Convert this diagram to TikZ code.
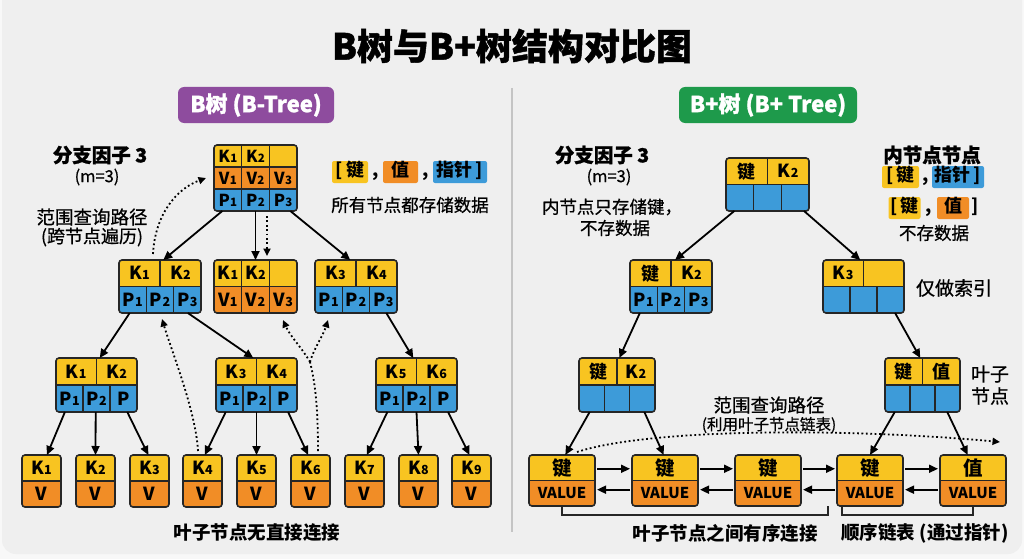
\documentclass[tikz,border=0pt]{standalone}
\usepackage{fontspec}
\setmainfont{Noto Sans CJK SC}
\newfontfamily\medfont{Noto Sans CJK SC}[FakeBold=0.6]
\newfontfamily\heavyfont{Noto Sans CJK SC}[BoldFeatures={FakeBold=1.2}]
\usetikzlibrary{arrows.meta,calc}
\definecolor{cY}{HTML}{F8C421}
\definecolor{cO}{HTML}{F18D26}
\definecolor{cB}{HTML}{3D9BD9}
\definecolor{cLine}{HTML}{262626}
\definecolor{cPurple}{HTML}{8E4C9E}
\definecolor{cGreen}{HTML}{1E9A4B}
\definecolor{cBg}{HTML}{F8F8F8}
\definecolor{cPanel}{HTML}{EFEFEF}
\definecolor{cDiv}{HTML}{C4C4C4}
\newcommand\cellfont{\bfseries\fontsize{18}{18}\selectfont}
\newcommand\subsz{12.5}
\newcommand\kx[2]{#1\kern0.3pt{\fontsize{\subsz}{\subsz}\selectfont#2}}
\newcommand\nn{\mbox{}}
\tikzset{
 tbox/.style={draw=cLine, line width=1.6pt, rounded corners=3pt, inner sep=0pt, outer sep=0pt},
 divline/.style={draw=cLine, line width=1.1pt},
 ctext/.style={font=\cellfont, text=black, inner sep=0pt},
 arr/.style={draw=black, line width=1.8pt, -{Triangle[length=9pt,width=8pt]}},
 dotline/.style={draw=black, line width=1.8pt, dash pattern=on 1.8pt off 2.6pt},
 dotarr/.style={dotline, -{Triangle[length=7.5pt,width=7pt]}},
 lab/.style={font=\medfont\fontsize{17.5}{20}\selectfont, text=black, inner sep=0pt},
 blab/.style={font=\heavyfont\bfseries\fontsize{19.5}{21}\selectfont, text=black, inner sep=0pt},
 capt/.style={font=\bfseries\fontsize{18.5}{20}\selectfont, text=black, inner sep=0pt},
 tagtxt/.style={inner sep=0pt, text height=13pt, text depth=4pt, font=\bfseries\fontsize{18}{18}\selectfont},
 tag/.style={tagtxt, rounded corners=2pt, minimum height=22pt},
 badge/.style={rounded corners=6pt, text=white, font=\heavyfont\bfseries\fontsize{22}{22}\selectfont, minimum height=36pt, inner sep=0pt},
 brk/.style={draw=cLine, line width=1.1pt},
}
% x, y, w, h, n, fill, labels
\newcommand\cellrow[7]{%
  \fill[#6] (#1,#2) rectangle ++(#3,#4);
  \foreach \lab [count=\ci] in {#7} {
    \node[ctext] at ({#1+(\ci-0.5)*#3/#5},{#2+#4/2}) {\lab};
    \ifnum\ci>1 \draw[divline] ({#1+(\ci-1)*#3/#5},#2) -- ++(0,#4); \fi
  }
}
% name, x, y, w, h, klabels(2), plabels(3)
\newcommand\kpnode[7]{%
  \begin{scope}
    \clip[rounded corners=3pt] (#2,#3) rectangle ++(#4,#5);
    \cellrow{#2}{#3}{#4}{#5/2}{2}{cY}{#6}
    \cellrow{#2}{#3+#5/2}{#4}{#5/2}{3}{cB}{#7}
    \draw[divline] (#2,#3+#5/2) -- ++(#4,0);
  \end{scope}
  \node[tbox, minimum width=#4pt, minimum height=#5pt] (#1) at ({#2+#4/2},{#3+#5/2}) {};
}
% name, x, y, w, h, n, top labels, bottom labels
\newcommand\kvnode[8]{%
  \begin{scope}
    \clip[rounded corners=3pt] (#2,#3) rectangle ++(#4,#5);
    \cellrow{#2}{#3}{#4}{#5/2}{#6}{cY}{#7}
    \cellrow{#2}{#3+#5/2}{#4}{#5/2}{#6}{cO}{#8}
    \draw[divline] (#2,#3+#5/2) -- ++(#4,0);
  \end{scope}
  \node[tbox, minimum width=#4pt, minimum height=#5pt] (#1) at ({#2+#4/2},{#3+#5/2}) {};
}
\newcommand\link[4]{\draw[arr] ($(#1.south west)!#2!(#1.south east)$) -- ($(#3.north west)!#4!(#3.north east)$);}
\newcommand\fwd[2]{\draw[arr, shorten <=2pt, shorten >=2pt] ($(#1.north east)!0.27!(#1.south east)$) -- ($(#2.north west)!0.27!(#2.south west)$);}
\newcommand\bwd[2]{\draw[arr, shorten <=2pt, shorten >=2pt] ($(#2.north west)!0.68!(#2.south west)$) -- ($(#1.north east)!0.68!(#1.south east)$);}
\begin{document}
\begin{tikzpicture}[x=1pt,y=-1pt]
\useasboundingbox (0,0) rectangle (1024,559);
\fill[cBg] (0,0) rectangle (1024,559);
\fill[cPanel, rounded corners=14pt] (2,-20) rectangle (1022,554);

% title
\node[font=\heavyfont\bfseries\fontsize{36}{40}\selectfont, inner sep=0pt] (title) at (512,46) {B树与B+树结构对比图};
\node[badge, fill=cPurple, minimum width=156pt] (lbadge) at (256,105) {B树 (B-Tree)};
\node[badge, fill=cGreen, minimum width=178pt] (rbadge) at (768,105) {B+树 (B+ Tree)};
\draw[cDiv, line width=1.3pt] (512,88) -- (512,532);

% ===== left B-tree =====
\renewcommand\cellfont{\bfseries\fontsize{16.5}{16.5}\selectfont}
\renewcommand\subsz{11.5}
\begin{scope}
  \clip[rounded corners=3pt] (214,145) rectangle ++(83,66);
  \cellrow{214}{145}{83}{22}{3}{cY}{\kx{K}{1},\kx{K}{2},\nn}
  \cellrow{214}{167}{83}{22}{3}{cO}{\kx{V}{1},\kx{V}{2},\kx{V}{3}}
  \cellrow{214}{189}{83}{22}{3}{cB}{\kx{P}{1},\kx{P}{2},\kx{P}{3}}
  \draw[divline] (214,167) -- ++(83,0);
  \draw[divline] (214,189) -- ++(83,0);
\end{scope}
\node[tbox, minimum width=83pt, minimum height=66pt] (lroot) at (255.5,178) {};

\renewcommand\cellfont{\bfseries\fontsize{18}{18}\selectfont}
\renewcommand\subsz{12.5}
\kpnode{la}{119}{260}{82}{53}{\kx{K}{1},\kx{K}{2}}{\kx{P}{1},\kx{P}{2},\kx{P}{3}}
\kvnode{lb}{214}{260}{83}{53}{3}{\kx{K}{1},\kx{K}{2},\nn}{\kx{V}{1},\kx{V}{2},\kx{V}{3}}
\kpnode{lc}{315}{260}{82}{53}{\kx{K}{3},\kx{K}{4}}{\kx{P}{1},\kx{P}{2},\kx{P}{3}}
\kpnode{ld}{56}{358}{81}{54}{\kx{K}{1},\kx{K}{2}}{\kx{P}{1},\kx{P}{2},P}
\kpnode{le}{216}{358}{81}{54}{\kx{K}{3},\kx{K}{4}}{\kx{P}{1},\kx{P}{2},P}
\kpnode{lf}{376}{358}{81}{54}{\kx{K}{5},\kx{K}{6}}{\kx{P}{1},\kx{P}{2},P}
\kvnode{k1}{22}{455}{39}{52}{1}{\kx{K}{1}}{V}
\kvnode{k2}{76}{455}{39}{52}{1}{\kx{K}{2}}{V}
\kvnode{k3}{130}{455}{39}{52}{1}{\kx{K}{3}}{V}
\kvnode{k4}{183}{455}{39}{52}{1}{\kx{K}{4}}{V}
\kvnode{k5}{237}{455}{39}{52}{1}{\kx{K}{5}}{V}
\kvnode{k6}{291}{455}{39}{52}{1}{\kx{K}{6}}{V}
\kvnode{k7}{345}{455}{39}{52}{1}{\kx{K}{7}}{V}
\kvnode{k8}{399}{455}{39}{52}{1}{\kx{K}{8}}{V}
\kvnode{k9}{452}{455}{39}{52}{1}{\kx{K}{9}}{V}

\link{lroot}{0.1}{la}{0.54}
\link{lroot}{0.5}{lb}{0.5}
\link{lroot}{0.92}{lc}{0.43}
\link{la}{0.13}{ld}{0.54}
\link{la}{0.84}{le}{0.46}
\link{lc}{0.87}{lf}{0.46}
\link{ld}{0.11}{k1}{0.64}
\link{ld}{0.49}{k2}{0.5}
\link{ld}{0.88}{k3}{0.47}
\link{le}{0.12}{k4}{0.56}
\link{le}{0.5}{k5}{0.5}
\link{le}{0.89}{k6}{0.44}
\link{lf}{0.14}{k7}{0.56}
\link{lf}{0.5}{k8}{0.5}
\link{lf}{0.89}{k9}{0.45}

% dotted range paths (left)
\coordinate (d0s) at (267,216);
\coordinate (d0e) at (267,256);
\draw[dotarr] (d0s) -- (d0e);
\coordinate (d1s) at (153,254);
\coordinate (d1e) at (206,178);
\draw[dotarr] (d1s) .. controls (155,215) and (176,189) .. (d1e);
\coordinate (d2s) at (198,451);
\coordinate (d2e) at (162,319);
\draw[dotarr] (d2s) .. controls (196,412) and (172,352) .. (d2e);
\coordinate (d3s) at (318,451);
\coordinate (d3m) at (310,362);
\coordinate (d3a) at (283,320);
\coordinate (d3b) at (328,320);
\draw[dotline] (d3s) .. controls (318,400) and (314,378) .. (d3m);
\draw[dotarr] (d3m) .. controls (302,348) and (290,336) .. (d3a);
\draw[dotarr] (d3m) .. controls (314,348) and (323,336) .. (d3b);

% left labels
\node[blab] (lbf) at (100,155) {分支因子 3};
\node[lab, font=\medfont\fontsize{16.5}{18}\selectfont] (lm) at (97,177) {(m=3)};
\node[lab, font=\medfont\fontsize{18.5}{20}\selectfont] (lrq) at (92,217) {范围查询路径};
\node[lab, font=\medfont\fontsize{18}{20}\selectfont] (lrq2) at (92,237) {(跨节点遍历)};
\node[tag, fill=cY, minimum width=36pt] (ltk) at (350,172) {[\,键};
\node[tagtxt] (lc1) at (376,172) {,};
\node[tag, fill=cO, minimum width=35pt] (ltv) at (400.5,172) {值};
\node[tagtxt] (lc2) at (426,172) {,};
\node[tag, fill=cB, minimum width=54pt] (ltp) at (460,172) {指针\,]};
\node[lab] (lall) at (410,205) {所有节点都存储数据};
\node[capt] (lcap) at (257,533) {叶子节点无直接连接};

% ===== right B+ tree =====
\kpnode{ra}{726}{158}{83}{53}{键,\kx{K}{2}}{\nn,\nn,\nn}
\kpnode{rb}{630}{260}{82}{53}{键,\kx{K}{2}}{\kx{P}{1},\kx{P}{2},\kx{P}{3}}
\kpnode{rc}{823}{260}{81}{53}{\kx{K}{3},\nn}{\nn,\nn,\nn}
\kpnode{rd}{579}{358}{76}{54}{键,\kx{K}{2}}{\nn,\nn,\nn}
\kpnode{re}{885}{358}{75}{54}{键,值}{\nn,\nn,\nn}
\renewcommand\cellfont{\bfseries\fontsize{19.5}{19.5}\selectfont}
\kvnode{l1}{529}{455}{66}{51}{1}{键}{{\fontsize{15}{15}\selectfont VALUE}}
\kvnode{l2}{632}{455}{66}{51}{1}{键}{{\fontsize{15}{15}\selectfont VALUE}}
\kvnode{l3}{735}{455}{66}{51}{1}{键}{{\fontsize{15}{15}\selectfont VALUE}}
\kvnode{l4}{837}{455}{66}{51}{1}{键}{{\fontsize{15}{15}\selectfont VALUE}}
\kvnode{l5}{940}{455}{66}{51}{1}{值}{{\fontsize{15}{15}\selectfont VALUE}}

\link{ra}{0.1}{rb}{0.55}
\link{ra}{0.94}{rc}{0.46}
\link{rb}{0.12}{rd}{0.53}
\link{rc}{0.89}{re}{0.47}
\link{rd}{0.14}{l1}{0.55}
\link{rd}{0.86}{l2}{0.48}
\link{re}{0.13}{l4}{0.5}
\link{re}{0.83}{l5}{0.42}
\fwd{l1}{l2}\fwd{l2}{l3}\fwd{l3}{l4}\fwd{l4}{l5}
\bwd{l1}{l2}\bwd{l2}{l3}\bwd{l3}{l4}\bwd{l4}{l5}

\coordinate (rqs) at (577,452);
\coordinate (rqe) at (1000,442);
\draw[dotarr] (rqs) .. controls (650,428) and (850,428) .. (rqe);

\coordinate (b1e) at (828,506);
\draw[brk] (l1.south) -- ++(0,9) -| (b1e);
\coordinate (b2s) at (842,506);
\draw[brk] (b2s) -- ++(0,9) -| (l5.south);

% right labels
\node[blab] (rbf) at (602,155) {分支因子 3};
\node[lab, font=\medfont\fontsize{16.5}{18}\selectfont] (rm) at (609,177) {(m=3)};
\node[lab, font=\medfont\fontsize{17.5}{20}\selectfont] (rin1) at (612,207) {内节点只存储键，};
\node[lab, font=\medfont\fontsize{17.5}{20}\selectfont] (rin2) at (615,228) {不存数据};
\node[blab] (rinn) at (932,155) {内节点节点};
\node[tag, fill=cY, minimum width=37pt] (rtk1) at (900.5,177) {[\,键};
\node[tagtxt] (rc1) at (926,177) {,};
\node[tag, fill=cB, minimum width=52pt] (rtp) at (958,177) {指针\,]};
\node[tag, fill=cY, minimum width=32pt] (rtk2) at (904.5,208) {[\,键};
\node[tagtxt] (rc2) at (929,208) {,};
\node[tag, fill=cO, minimum width=32pt] (rtv) at (953,208) {值};
\node[tagtxt] (rbr) at (975,208) {]};
\node[lab, font=\medfont\fontsize{17.5}{20}\selectfont] (rns) at (934,233) {不存数据};
\node[lab, font=\medfont\fontsize{19}{20}\selectfont] (ridx) at (954,288) {仅做索引};
\node[lab, font=\medfont\fontsize{19}{20}\selectfont] (rleaf1) at (990,374) {叶子};
\node[lab, font=\medfont\fontsize{19}{20}\selectfont] (rleaf2) at (990,396) {节点};
\node[lab, font=\medfont\fontsize{18.5}{20}\selectfont] (rrq) at (769,405) {范围查询路径};
\node[lab, font=\medfont\fontsize{15.5}{18}\selectfont] (rrq2) at (769,425) {(利用叶子节点链表)};
\node[capt] (rcap1) at (725,533) {叶子节点之间有序连接};
\node[capt] (rcap2) at (925,533) {顺序链表 (通过指针)};
\end{tikzpicture}
\end{document}
